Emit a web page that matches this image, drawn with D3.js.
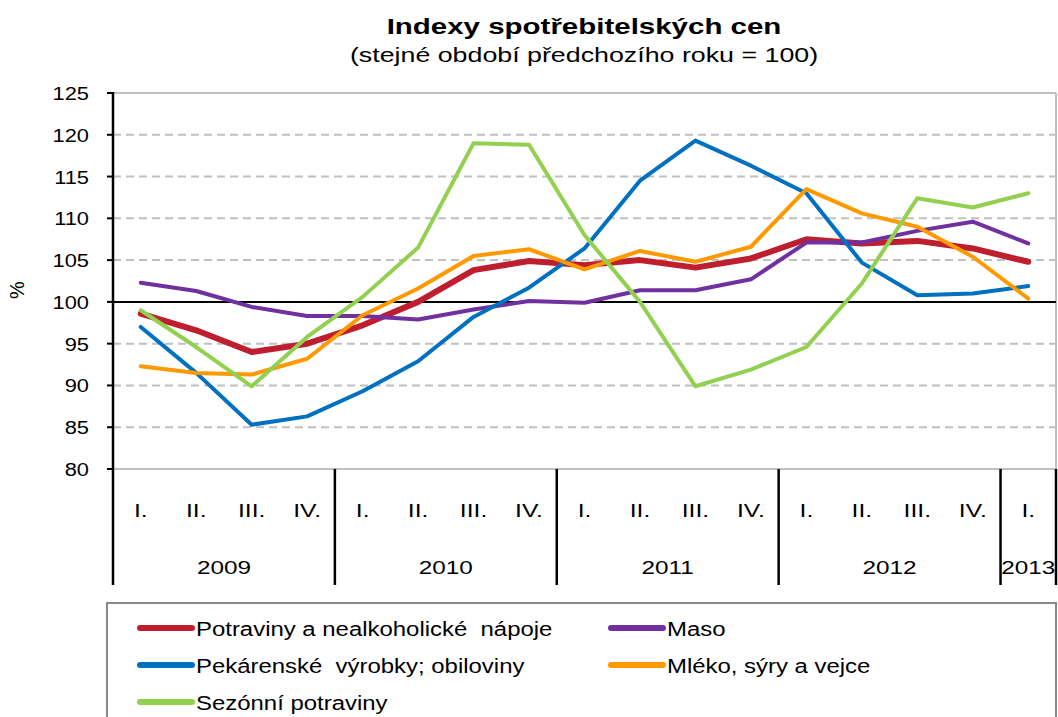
<!DOCTYPE html>
<html>
<head>
<meta charset="utf-8">
<script src="https://cdnjs.cloudflare.com/ajax/libs/d3/7.8.5/d3.min.js"></script>
<style>
  body { margin: 0; background: #fff; }
  text { font-family: "Liberation Sans", Arial, sans-serif; fill: #000; }
</style>
</head>
<body>
<div id="chart"></div>
<script>
// quarters 2009 Q1 .. 2013 Q1
const quarters = ['I.', 'II.', 'III.', 'IV.', 'I.', 'II.', 'III.', 'IV.', 'I.', 'II.', 'III.', 'IV.', 'I.', 'II.', 'III.', 'IV.', 'I.'];
const years = ['2009', '2010', '2011', '2012', '2013'];
const yearSpans = [4, 4, 4, 4, 1];
const yTicks = [80, 85, 90, 95, 100, 105, 110, 115, 120, 125];

const potraviny = [98.6, 96.6, 94.0, 95.0, 97.2, 100.0, 103.8, 104.9, 104.4, 105.0, 104.1, 105.2, 107.5, 107.0, 107.3, 106.4, 104.8];
const maso = [102.3, 101.3, 99.4, 98.3, 98.3, 97.9, 99.1, 100.1, 99.9, 101.4, 101.4, 102.7, 107.1, 107.1, 108.5, 109.6, 107.0];
const pekarenske = [97.0, 91.5, 85.3, 86.3, 89.3, 92.9, 98.2, 101.7, 106.4, 114.5, 119.3, 116.3, 113.0, 104.7, 100.8, 101.0, 101.9];
const mleko = [92.3, 91.5, 91.3, 93.2, 98.4, 101.6, 105.5, 106.3, 103.9, 106.1, 104.8, 106.6, 113.5, 110.6, 109.0, 105.4, 100.4];
const sezonni = [99.0, 94.6, 89.9, 95.8, 100.6, 106.5, 119.0, 118.8, 108.0, 100.0, 89.9, 91.9, 94.6, 102.2, 112.4, 111.3, 113.0];

const seriesNames = ['Potraviny a nealkoholické  nápoje', 'Maso', 'Pekárenské  výrobky; obiloviny', 'Mléko, sýry a vejce', 'Sezónní potraviny'];
const seriesColors = ['#BE1E2D', '#7030A0', '#0070C0', '#FF9900', '#92D050'];
const seriesWidths = [6, 4, 4, 4, 4];

const series = [potraviny, maso, pekarenske, mleko, sezonni].map((values, i) => ({
  name: seriesNames[i],
  color: seriesColors[i],
  width: seriesWidths[i],
  values,
}));

const width = 1058;
const height = 717;
const plot = { left: 113, right: 1056, top: 93, bottom: 469 };
const catBottom = 585;

// the source picture is stretched sideways, so text gets a horizontal scale
function place(sel, fx, fy, sx) {
  sel.attr('transform', (d, i) => `translate(${fx(d, i)},${fy(d, i)}) scale(${sx},1)`);
}

const svg = d3.select('#chart').append('svg')
  .attr('width', width)
  .attr('height', height);

const x = d3.scaleBand()
  .domain(d3.range(quarters.length))
  .range([plot.left, plot.right])
  .padding(0);
const y = d3.scaleLinear()
  .domain([80, 125])
  .range([plot.bottom, plot.top]);

// titles
svg.append('text')
  .attr('text-anchor', 'middle')
  .style('font-size', '22px')
  .style('font-weight', 'bold')
  .text('Indexy spotřebitelských cen')
  .call(place, () => 584, () => 34, 1.34);
svg.append('text')
  .attr('text-anchor', 'middle')
  .style('font-size', '20px')
  .text('(stejné období předchozího roku = 100)')
  .call(place, () => 584, () => 62, 1.34);

// grid
const grid = svg.append('g').attr('class', 'grid');
grid.selectAll('line')
  .data(yTicks.filter((d) => d !== 100))
  .enter().append('line')
  .attr('x1', plot.left).attr('x2', plot.right)
  .attr('y1', (d) => y(d)).attr('y2', (d) => y(d))
  .attr('stroke', '#c0c0c0')
  .attr('stroke-width', 2)
  .attr('stroke-dasharray', (d) => (d === 80 || d === 125 ? null : '8,5'));
// right border of plot area
grid.append('line')
  .attr('x1', plot.right).attr('x2', plot.right)
  .attr('y1', plot.top).attr('y2', plot.bottom)
  .attr('stroke', '#c0c0c0')
  .attr('stroke-width', 2);

// 100 reference line
svg.append('line')
  .attr('x1', plot.left).attr('x2', plot.right)
  .attr('y1', y(100)).attr('y2', y(100))
  .attr('stroke', '#000')
  .attr('stroke-width', 2);

// y axis
const yAxis = svg.append('g');
yAxis.append('line')
  .attr('x1', plot.left).attr('x2', plot.left)
  .attr('y1', plot.top - 1).attr('y2', catBottom)
  .attr('stroke', '#000')
  .attr('stroke-width', 2.5);
yAxis.selectAll('.tick')
  .data(yTicks)
  .enter().append('line')
  .attr('x1', plot.left - 6).attr('x2', plot.left)
  .attr('y1', (d) => y(d)).attr('y2', (d) => y(d))
  .attr('stroke', '#000')
  .attr('stroke-width', 2);
yAxis.selectAll('text')
  .data(yTicks)
  .enter().append('text')
  .attr('text-anchor', 'end')
  .style('font-size', '19px')
  .text((d) => d)
  .call(place, () => 89, (d) => y(d) + 7, 1.15);

svg.append('text')
  .attr('transform', 'translate(24,290) rotate(-90)')
  .attr('text-anchor', 'middle')
  .style('font-size', '20px')
  .text('%');

// category axis: quarters + years
const catAxis = svg.append('g');
catAxis.selectAll('.q')
  .data(quarters)
  .enter().append('text')
  .attr('class', 'q')
  .attr('text-anchor', 'middle')
  .style('font-size', '19px')
  .text((d) => d)
  .call(place, (d, i) => x(i) + x.bandwidth() / 2, () => 517, 1.3);

let start = 0;
const yearPos = years.map((yr, i) => {
  const p = { year: yr, from: start, to: start + yearSpans[i] };
  start += yearSpans[i];
  return p;
});
const edgeX = (idx) => (idx >= quarters.length ? plot.right : x(idx));

catAxis.selectAll('.sep')
  .data(yearPos)
  .enter().append('line')
  .attr('x1', (d) => edgeX(d.to)).attr('x2', (d) => edgeX(d.to))
  .attr('y1', plot.bottom).attr('y2', catBottom)
  .attr('stroke', '#000')
  .attr('stroke-width', 2.5);
catAxis.selectAll('.yr')
  .data(yearPos)
  .enter().append('text')
  .attr('text-anchor', 'middle')
  .style('font-size', '19px')
  .text((d) => d.year)
  .call(place, (d) => (x(d.from) + edgeX(d.to)) / 2, () => 574, 1.28);

// lines
const line = d3.line()
  .x((d, i) => x(i) + x.bandwidth() / 2)
  .y((d) => y(d));
svg.append('g').selectAll('path')
  .data(series)
  .enter().append('path')
  .attr('d', (d) => line(d.values))
  .attr('fill', 'none')
  .attr('stroke', (d) => d.color)
  .attr('stroke-width', (d) => d.width)
  .attr('stroke-linejoin', 'round')
  .attr('stroke-linecap', 'round');

// legend
const legend = svg.append('g');
legend.append('rect')
  .attr('x', 107).attr('y', 603)
  .attr('width', 949).attr('height', 130)
  .attr('fill', '#fff')
  .attr('stroke', '#888')
  .attr('stroke-width', 2);
const legendItems = legend.selectAll('.item')
  .data(series)
  .enter().append('g')
  .attr('transform', (d, i) => `translate(${i % 2 === 0 ? 140 : 611},${628 + Math.floor(i / 2) * 37})`);
legendItems.append('line')
  .attr('x1', 0).attr('x2', 52)
  .attr('stroke', (d) => d.color)
  .attr('stroke-width', 6)
  .attr('stroke-linecap', 'round');
legendItems.append('text')
  .style('font-size', '21px')
  .style('white-space', 'pre')
  .text((d) => d.name)
  .call(place, () => 56, () => 8, 1.14);
</script>
</body>
</html>
